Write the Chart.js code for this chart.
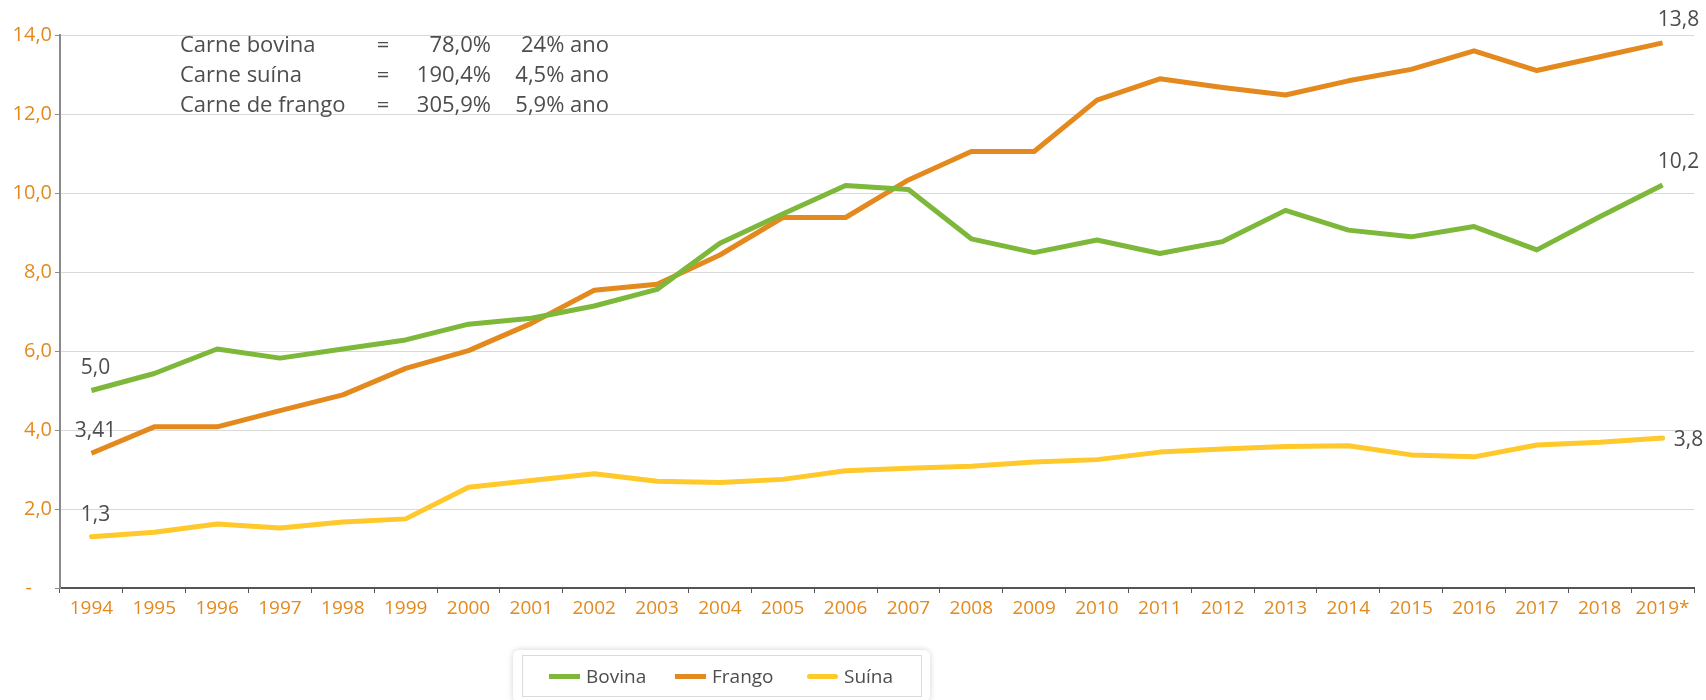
<!DOCTYPE html>
<html lang="pt-BR">
<head>
<meta charset="utf-8">
<title>Consumo per capita de carnes</title>
<script src="https://cdn.jsdelivr.net/npm/chart.js@4/dist/chart.umd.min.js"></script>
<style>
  html, body { margin: 0; padding: 0; background: #fff; }
  #wrap { position: relative; width: 1706px; height: 700px; font-family: "Open Sans", sans-serif; }
  #legend {
    position: absolute; left: 513px; top: 650px; width: 417px; height: 52px;
    background: #fff; border-radius: 6px; box-shadow: 0 0 6px rgba(0,0,0,0.18);
  }
  #legend .inner {
    position: absolute; left: 9px; top: 5px; right: 8px; height: 40px;
    border: 1px solid #dcdcdc; display: flex; align-items: center;
  }
  #legend .item { display: flex; align-items: center; position: absolute; top: 0; height: 40px; }
  #legend .swatch { width: 31px; height: 5px; margin-right: 6px; }
  #legend span { font-size: 19px; color: #4d4d4d; }
</style>
</head>
<body>
<div id="wrap">
  <canvas id="chart" width="1706" height="700"></canvas>
  <div id="legend"><div class="inner"></div></div>
</div>
<script>
// years on the x axis
const years = ['1994', '1995', '1996', '1997', '1998', '1999', '2000', '2001', '2002', '2003',
  '2004', '2005', '2006', '2007', '2008', '2009', '2010', '2011', '2012', '2013',
  '2014', '2015', '2016', '2017', '2018', '2019*'];

// consumo per capita (kg/hab/ano)
const bovina = [5.0, 5.43, 6.05, 5.82, 6.05, 6.28, 6.68, 6.83, 7.14, 7.56,
  8.73, 9.47, 10.19, 10.09, 8.84, 8.49, 8.81, 8.47, 8.77, 9.56,
  9.06, 8.89, 9.15, 8.56, 9.4, 10.2];
const frango = [3.41, 4.08, 4.08, 4.49, 4.89, 5.56, 6.01, 6.7, 7.54, 7.69,
  8.43, 9.38, 9.38, 10.33, 11.05, 11.05, 12.35, 12.89, 12.67, 12.48,
  12.84, 13.13, 13.6, 13.1, 13.45, 13.8];
const suina = [1.3, 1.41, 1.62, 1.52, 1.67, 1.75, 2.55, 2.72, 2.89, 2.7,
  2.67, 2.75, 2.97, 3.03, 3.08, 3.19, 3.25, 3.44, 3.52, 3.58,
  3.6, 3.37, 3.32, 3.62, 3.69, 3.8];

const yTicks = [0, 2, 4, 6, 8, 10, 12, 14];

// crescimento no período
const growthNames = ['Carne bovina', 'Carne suína', 'Carne de frango'];
const growthTotal = ['78,0%', '190,4%', '305,9%'];
const growthYear = ['24% ano', '4,5% ano', '5,9% ano'];

const GREEN = '#7db83a';
const ORANGE = '#e3891e';
const YELLOW = '#ffc82b';
const TEXT = '#4d4d4d';
const FONT = '"Open Sans", sans-serif';

const fmt = v => (Math.round(v * 10) === v * 10 ? v.toFixed(1) : v.toFixed(2)).replace('.', ',');

// value labels at the start and end of each line
const endLabels = {
  id: 'endLabels',
  afterDatasetsDraw(chart) {
    const ctx = chart.ctx;
    ctx.save();
    ctx.font = '21px ' + FONT;
    ctx.fillStyle = TEXT;
    ctx.textAlign = 'center';
    ctx.textBaseline = 'middle';
    chart.data.datasets.forEach((ds, i) => {
      const pts = chart.getDatasetMeta(i).data;
      const first = pts[0], last = pts[pts.length - 1];
      ctx.fillText(fmt(ds.data[0]), first.x + 4, first.y - 22);
      if (ds.label === 'Suína') {
        ctx.fillText(fmt(ds.data[ds.data.length - 1]), last.x + 26, last.y + 2);
      } else {
        ctx.fillText(fmt(ds.data[ds.data.length - 1]), last.x + 16, last.y - 23);
      }
    });
    ctx.restore();
  }
};

// growth summary in the upper left
const growthNote = {
  id: 'growthNote',
  afterDraw(chart) {
    const ctx = chart.ctx;
    ctx.save();
    ctx.font = '22px ' + FONT;
    ctx.fillStyle = TEXT;
    ctx.textBaseline = 'middle';
    growthNames.forEach((name, i) => {
      const y = 46 + i * 30;
      ctx.textAlign = 'left';
      ctx.fillText(name, 180, y);
      ctx.textAlign = 'center';
      ctx.fillText('=', 383, y);
      ctx.textAlign = 'right';
      ctx.fillText(growthTotal[i], 491, y);
      ctx.fillText(growthYear[i], 609, y);
    });
    ctx.restore();
  }
};

const series = [
  { label: 'Bovina', data: bovina, color: GREEN, cap: 'butt' },
  { label: 'Frango', data: frango, color: ORANGE, cap: 'butt' },
  { label: 'Suína', data: suina, color: YELLOW, cap: 'round' }
];

new Chart(document.getElementById('chart'), {
  type: 'line',
  data: {
    labels: years,
    datasets: series.map(s => ({
      label: s.label,
      data: s.data,
      borderColor: s.color,
      backgroundColor: s.color,
      borderWidth: 5,
      borderCapStyle: s.cap,
      borderJoinStyle: 'round',
      pointRadius: 0,
      tension: 0
    }))
  },
  options: {
    responsive: false,
    animation: false,
    layout: { padding: { left: 0, right: 12, top: 35, bottom: 72 } },
    plugins: { legend: { display: false }, tooltip: { enabled: false } },
    scales: {
      x: {
        offset: true,
        afterFit: scale => { scale.height = 40; },
        border: { color: '#555', width: 2 },
        grid: { display: true, drawOnChartArea: false, offset: true, tickLength: 5, tickColor: '#555' },
        ticks: { color: ORANGE, font: { family: FONT, size: 19 }, padding: 4, maxRotation: 0, autoSkip: false }
      },
      y: {
        min: 0,
        max: 14,
        afterFit: scale => { scale.width = 60; },
        afterBuildTicks: scale => { scale.ticks = yTicks.map(v => ({ value: v })); },
        border: { color: '#8a8a8a', width: 2 },
        grid: { color: '#d9d9d9', lineWidth: 1, tickLength: 5, tickColor: '#8a8a8a' },
        ticks: {
          color: ORANGE,
          font: { family: FONT, size: 20 },
          padding: 3,
          // zero is shown as a dash, set in from the other labels
          callback: v => (v === 0 ? '-\u2002\u2002' : v.toFixed(1).replace('.', ','))
        }
      }
    }
  },
  plugins: [endLabels, growthNote]
});

// legend below the plot
const inner = document.querySelector('#legend .inner');
const legendX = [26, 152, 284];
series.forEach((s, i) => {
  const item = document.createElement('div');
  item.className = 'item';
  item.style.left = legendX[i] + 'px';
  const sw = document.createElement('div');
  sw.className = 'swatch';
  sw.style.background = s.color;
  if (s.cap === 'round') sw.style.borderRadius = '3px';
  const txt = document.createElement('span');
  txt.textContent = s.label;
  item.appendChild(sw);
  item.appendChild(txt);
  inner.appendChild(item);
});
</script>
</body>
</html>
